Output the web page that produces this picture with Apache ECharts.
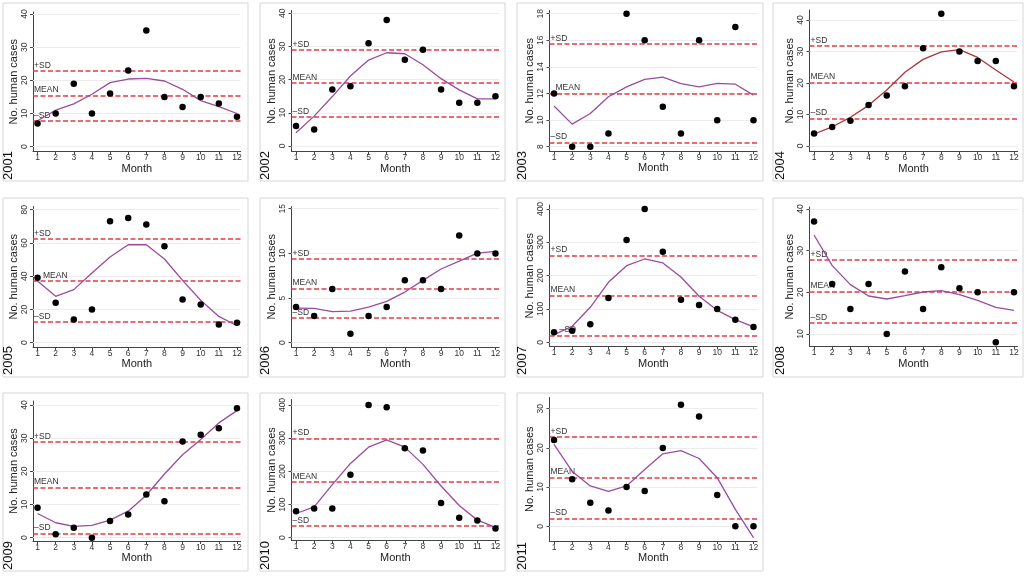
<!DOCTYPE html>
<html><head><meta charset="utf-8">
<script src="https://cdn.jsdelivr.net/npm/echarts@6/dist/echarts.min.js"></script>
<style>html,body{margin:0;padding:0;background:#fff}#c{width:1028px;height:576px}</style>
</head><body><div id="c"></div>
<script>
// ---------- DATA ----------
const years = ['2001','2002','2003','2004','2005','2006','2007','2008','2009','2010','2011'];
const months = [1,2,3,4,5,6,7,8,9,10,11,12];

const cases2001 = [7,10,19,10,16,23,35,15,12,15,13,9];
const fit2001   = [7.8,11.0,12.9,15.8,19.3,20.4,20.6,19.8,17.3,13.9,12.1,10.0];
const cases2002 = [6,5,17,18,31,38,26,29,17,13,13,15];
const fit2002   = [4.0,9.0,14.9,21.1,25.9,28.1,27.8,24.5,20.3,16.9,14.2,14.2];
const cases2003 = [12,8,8,9,18,16,11,9,16,10,17,10];
const fit2003   = [11.06,9.7,10.5,11.76,12.5,13.06,13.24,12.74,12.5,12.76,12.7,11.88];
const cases2004 = [4,6,8,13,16,19,31,42,30,27,27,19];
const fit2004   = [3.8,6.1,9.1,12.9,17.8,23.4,27.5,29.9,30.6,28.1,24.1,20.3];
const cases2005 = [39,24,14,20,73,75,71,58,26,23,11,12];
const fit2005   = [37.1,27.9,31.9,41.9,51.5,58.9,58.9,50.3,37.5,25.5,15.8,10.2];
const cases2006 = [4,3,6,1,3,4,7,7,6,12,10,10];
const fit2006   = [3.88,3.84,3.47,3.54,3.99,4.63,5.67,6.98,8.25,9.14,10.04,10.22];
const cases2007 = [30,35,54,133,307,400,272,128,112,100,68,46];
const fit2007   = [23,48,105,180,230,250,238,196,138,96,68,46];
const cases2008 = [37,22,16,22,10,25,16,26,21,20,8,20];
const fit2008   = [33.76,26.4,21.84,19.12,18.4,19.2,20.08,20.4,19.44,18.08,16.4,15.68];
const cases2009 = [9,1,3,0,5,7,13,11,29,31,33,39];
const fit2009   = [7.3,4.5,3.4,3.7,5.3,8.0,12.8,19.2,25.0,29.6,34.6,38.3];
const cases2010 = [80,88,88,190,400,393,270,263,105,60,52,28];
const fit2010   = [73,93,160,224,273,295,273,221,156,97,53,31];
const cases2011 = [22,12,6,4,10,9,20,31,28,8,0,0];
const fit2011   = [20.9,14.0,10.3,8.9,10.3,14.5,18.5,19.3,17.3,12.4,4.3,-2.9];

const means   = [15.4,19.0,12.0,20.2,37.2,6.08,140,20.2,15.1,168,12.5];
const plusSD  = [22.9,29.0,15.72,31.7,62.3,9.37,261,27.84,28.9,299.5,22.8];
const minusSD = [7.7,8.7,8.33,8.7,12.4,2.8,20,12.64,1.3,35,2.04];

const yTicks2001 = [0,10,20,30,40];
const yTicks2002 = [0,10,20,30,40];
const yTicks2003 = [8,10,12,14,16,18];
const yTicks2004 = [0,10,20,30,40];
const yTicks2005 = [0,20,40,60,80];
const yTicks2006 = [0,5,10,15];
const yTicks2007 = [0,100,200,300,400];
const yTicks2008 = [10,20,30,40];
const yTicks2009 = [0,10,20,30,40];
const yTicks2010 = [0,100,200,300,400];
const yTicks2011 = [0,10,20,30];

const caseSets = [cases2001,cases2002,cases2003,cases2004,cases2005,cases2006,cases2007,cases2008,cases2009,cases2010,cases2011];
const fitSets  = [fit2001,fit2002,fit2003,fit2004,fit2005,fit2006,fit2007,fit2008,fit2009,fit2010,fit2011];
const tickSets = [yTicks2001,yTicks2002,yTicks2003,yTicks2004,yTicks2005,yTicks2006,yTicks2007,yTicks2008,yTicks2009,yTicks2010,yTicks2011];

// ---------- LAYOUT ----------
const colLeft  = [33, 291.5, 549.5, 809.5];
const colWidth = [207.6, 207.6, 207.6, 208.1];
// per panel: [top, bottom, yMin, yMax]
const yLayout = [
  [12, 151.5, -1.45, 40.6],
  [10.5, 151.5, -1.66, 40.84],
  [10.5, 151, 7.68, 18.24],
  [10, 151.5, -1.75, 43.17],
  [206.5, 347, -2.6, 81.9],
  [206.5, 347, -0.48, 15.25],
  [205, 346.5, -12.6, 412],
  [207, 346.5, 7.0, 40.48],
  [401, 541, -1.0, 41.2],
  [399.5, 540.5, -8.4, 416.6],
  [397.5, 541, -3.75, 32.86]
];
// label x-offsets for [+SD, MEAN, -SD]
const labelDx = [
  [1,1,1],[1,1,1],[1,6,1],[1,1,1],
  [1,10,1],[1,1,1],[1,1,10],[1,1,1],
  [1,1,1],[1,1,1],[1,1,1]
];
const frameX = [3, 260, 517, 773], frameW = [245, 245, 246, 250];
const frameY = [3, 198, 393], frameH = [178, 179, 178];
const yearX = [8, 265, 522, 780], yearBottom = [180, 375, 570];

const FONT = 'Liberation Sans, Arial, Helvetica, sans-serif';
const PURPLE = '#9a4c9e', DARKRED = '#a8383a', RED = '#e23b47';
const AXIS = '#444';

const grids = [], xAxes = [], yAxes = [], series = [], graphics = [];

years.forEach((yr, i) => {
  const col = i % 4, row = Math.floor(i / 4);
  const [top, bottom, ymin, ymax] = yLayout[i];
  grids.push({ left: colLeft[col], width: colWidth[col], top: top, height: bottom - top, containLabel: false });
  xAxes.push({
    type: 'value', gridIndex: i, min: 0.75, max: 12.2,
    name: 'Month', nameLocation: 'middle', nameGap: 6,
    nameTextStyle: { fontSize: 11, color: '#222', fontFamily: FONT },
    axisLine: { show: true, onZero: false, lineStyle: { color: AXIS, width: 1 } },
    axisTick: { show: true, length: 3, customValues: months, lineStyle: { color: AXIS } },
    axisLabel: { customValues: months, fontSize: 8.5, color: '#333', margin: 2, fontFamily: FONT },
    splitLine: { show: false }
  });
  yAxes.push({
    type: 'value', gridIndex: i, min: ymin, max: ymax,
    name: 'No. human cases', nameLocation: 'middle', nameGap: 13, nameRotate: 90,
    nameTextStyle: { fontSize: 11, color: '#222', fontFamily: FONT },
    axisLine: { show: true, onZero: false, lineStyle: { color: AXIS, width: 1 } },
    axisTick: { show: true, length: 3, customValues: tickSets[i], lineStyle: { color: AXIS } },
    axisLabel: { customValues: tickSets[i], rotate: 90, fontSize: 8.5, color: '#333', margin: 4, fontFamily: FONT },
    splitLine: { show: false }
  });
  const pts = months.map((m, j) => [m, caseSets[i][j]]);
  const fitPts = months.map((m, j) => [m, fitSets[i][j]]);
  // gridlines
  series.push({
    type: 'line', xAxisIndex: i, yAxisIndex: i, data: fitPts, symbol: 'none', silent: true,
    lineStyle: { opacity: 0 }, z: 1,
    markLine: {
      silent: true, symbol: ['none', 'none'], animation: false, z: 1,
      lineStyle: { color: '#ececec', width: 1, type: 'solid' }, label: { show: false },
      data: tickSets[i].map(v => ({ yAxis: v }))
    }
  });
  // fitted line + reference lines
  const lbl = (txt, dx) => ({
    show: true, formatter: txt, position: 'insideStartTop', distance: [dx, 1],
    fontSize: 8.5, color: '#333', fontFamily: FONT
  });
  series.push({
    type: 'line', xAxisIndex: i, yAxisIndex: i, data: fitPts, symbol: 'none', z: 4,
    lineStyle: { color: i === 3 ? DARKRED : PURPLE, width: 1.3 },
    markLine: {
      silent: true, symbol: ['none', 'none'], animation: false, z: 3,
      lineStyle: { color: RED, width: 1.5, type: [5, 2.5] },
      data: [
        { yAxis: plusSD[i], label: lbl('+SD', labelDx[i][0]) },
        { yAxis: means[i], label: lbl('MEAN', labelDx[i][1]) },
        { yAxis: minusSD[i], label: lbl('\u2013SD', labelDx[i][2]) }
      ]
    }
  });
  series.push({
    type: 'scatter', xAxisIndex: i, yAxisIndex: i, data: pts, symbol: 'circle', symbolSize: 6.5,
    itemStyle: { color: '#000', opacity: 1 }, z: 6
  });
  graphics.push({
    type: 'rect', shape: { x: frameX[col], y: frameY[row], width: frameW[col], height: frameH[row] },
    style: { fill: 'none', stroke: '#d6d6d6', lineWidth: 1 }, z: 0, silent: true
  });
  graphics.push({
    type: 'text', x: yearX[col], y: yearBottom[row], rotation: Math.PI / 2,
    style: { text: yr, fontSize: 13, fill: '#111', fontFamily: FONT, align: 'left', verticalAlign: 'middle' },
    z: 10, silent: true
  });
});

const chart = echarts.init(document.getElementById('c'), null, { renderer: 'canvas' });
chart.setOption({
  animation: false,
  backgroundColor: '#fff',
  textStyle: { fontFamily: FONT },
  grid: grids, xAxis: xAxes, yAxis: yAxes, series: series, graphic: graphics
});
</script></body></html>
